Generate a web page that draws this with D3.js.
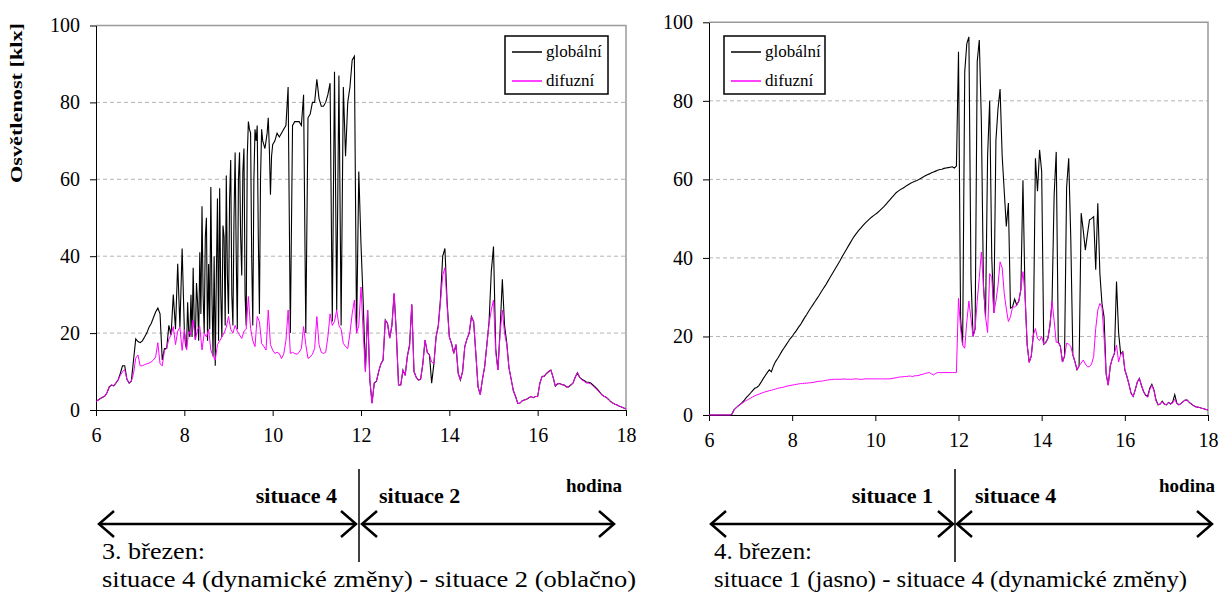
<!DOCTYPE html>
<html>
<head>
<meta charset="utf-8">
<script src="https://cdn.jsdelivr.net/npm/d3@7/dist/d3.min.js"></script>
<style>
  body { margin: 0; background: #fff; }
  svg { display: block; }
</style>
</head>
<body>
<svg id="chart" width="1219" height="592"></svg>
<script>
const SERIF = '"Liberation Serif", "DejaVu Serif", "Times New Roman", serif';

const xTicks = [6, 8, 10, 12, 14, 16, 18];
const yTicks = [0, 20, 40, 60, 80, 100];
const gridValues = [20, 40, 60, 80];
const seriesNames = ['globální', 'difuzní'];
const yTitle = 'Osvětlenost [klx]';

// samples per hour (6..17); 20 = every 3 min, 40 = every 1.5 min
const regularRate = [20, 20, 20, 20, 20, 20, 20, 20, 20, 20, 20, 20];
const march3GlobalRate = [20, 20, 40, 40, 20, 20, 20, 20, 20, 20, 20, 20];

// one row per hour, last value = 18:00
const march3Global = [
  2.2, 2.6, 3.0, 3.3, 3.6, 4.5, 6.0, 6.5, 6.3, 7.0, 7.8, 9.5, 11.5, 11.5, 8.0, 7.0, 7.5, 13.0, 18.5, 17.8,
  17.5, 18.0, 19.0, 20.0, 21.5, 22.5, 24.0, 25.5, 26.5, 25.0, 13.0, 16.0, 16.0, 22.0, 19.5, 30.0, 21.0, 38.0, 21.5, 42.0,
  21.0, 17.0, 16.0, 28.0, 20.4, 19.0, 30.0, 19.0, 37.0, 22.0, 18.2, 33.0, 28.0, 18.0, 41.0, 25.0, 53.0, 30.0, 20.0, 45.0,
  50.0, 18.0, 38.0, 21.0, 58.0, 30.0, 14.0, 40.0, 11.5, 35.0, 55.0, 18.0, 57.7, 30.0, 19.0, 48.0, 45.0, 22.0, 61.0, 35.0,
  25.0, 55.0, 65.0, 30.0, 22.0, 50.0, 67.0, 40.0, 21.0, 60.0, 67.0, 45.0, 35.0, 62.0, 68.0, 30.0, 22.0, 66.0, 75.0, 73.0,
  72.0, 40.0, 22.0, 60.0, 73.0, 70.0, 74.0, 45.0, 25.0, 60.0, 73.0, 70.0, 69.0, 68.0, 70.0, 72.0, 76.0, 68.0, 56.0, 66.0,
  69.0, 70.0, 72.0, 71.0, 72.0, 73.0, 74.0, 84.0, 20.0, 74.0, 75.0, 75.0, 75.0, 74.0, 82.0, 20.0, 76.0, 77.0, 80.0, 80.0,
  86.0, 81.0, 79.0, 79.0, 80.0, 82.0, 85.0, 23.0, 88.0, 26.0, 87.0, 22.0, 84.0, 66.0, 80.0, 84.0, 91.0, 92.0, 20.0, 62.0,
  43.0, 28.0, 10.0, 26.0, 7.8, 1.8, 7.0, 7.5, 10.0, 12.0, 13.0, 23.4, 22.5, 18.7, 22.0, 30.3, 20.0, 6.5, 6.5, 10.4,
  9.0, 14.0, 17.0, 27.5, 10.0, 8.5, 7.8, 8.0, 12.0, 18.2, 15.0, 14.3, 7.0, 12.0, 19.0, 22.0, 29.0, 40.0, 42.0, 28.0,
  19.0, 17.3, 14.7, 17.0, 9.6, 7.8, 10.0, 16.5, 18.5, 20.0, 24.3, 23.0, 14.7, 6.0, 4.0, 8.0, 11.3, 17.0, 23.0, 36.0,
  42.5, 16.0, 10.4, 21.0, 34.0, 22.0, 17.5, 11.0, 8.0, 5.0, 3.5, 1.7, 1.8, 2.4, 2.6, 2.8, 3.2, 3.5, 3.2, 3.5,
  3.5, 7.0, 8.7, 8.8, 9.5, 10.0, 10.4, 8.5, 6.2, 6.8, 6.9, 6.6, 6.5, 6.0, 6.0, 6.5, 7.0, 8.5, 9.7, 8.5,
  8.0, 7.7, 7.3, 7.2, 7.0, 6.5, 6.0, 5.4, 4.7, 4.0, 3.6, 3.3, 2.8, 2.2, 1.8, 1.5, 1.3, 1.0, 0.8, 0.5,
  0.3
];

const march3Diffuse = [
  2.2, 2.6, 3.0, 3.3, 3.6, 4.5, 6.0, 6.5, 6.3, 7.0, 7.8, 9.0, 10.0, 10.5, 8.0, 7.0, 7.5, 9.5, 13.5, 14.3,
  11.5, 11.5, 11.8, 12.0, 12.2, 12.5, 13.0, 13.8, 17.5, 12.0, 11.5, 15.5, 16.0, 18.5, 19.5, 21.7, 17.0, 20.5, 21.5, 15.5,
  21.0, 15.6, 20.4, 19.5, 23.4, 18.2, 21.0, 21.7, 15.6, 20.0, 19.0, 21.0, 15.6, 14.0, 13.0, 17.0, 18.0, 19.0, 20.0, 21.5,
  24.3, 21.0, 20.0, 22.0, 20.5, 19.5, 18.6, 20.5, 21.0, 29.5, 21.2, 18.0, 16.5, 24.3, 23.0, 17.3, 16.5, 15.6, 26.0, 17.0,
  15.6, 14.7, 15.0, 14.7, 13.4, 14.5, 18.0, 26.0, 14.7, 15.0, 14.7, 14.5, 15.0, 16.0, 21.7, 17.0, 13.4, 13.8, 14.5, 16.0,
  24.3, 17.0, 15.0, 14.7, 15.0, 19.0, 25.0, 22.0, 23.0, 26.0, 22.0, 21.0, 17.3, 16.5, 16.0, 20.0, 25.0, 28.6, 20.0, 22.0,
  32.0, 20.0, 10.0, 26.0, 7.8, 1.8, 7.0, 7.5, 10.0, 12.0, 13.0, 23.4, 22.5, 18.7, 22.0, 30.3, 20.0, 6.5, 6.5, 10.4,
  9.0, 14.0, 16.5, 27.3, 10.0, 8.5, 7.8, 8.0, 12.0, 18.2, 15.0, 14.3, 12.5, 12.0, 19.0, 21.5, 28.2, 35.0, 37.0, 27.0,
  19.0, 17.3, 14.7, 17.0, 9.6, 7.8, 10.0, 16.5, 18.5, 20.0, 24.3, 23.0, 14.7, 6.0, 4.0, 8.0, 11.3, 17.0, 22.5, 26.0,
  28.6, 15.0, 10.4, 20.0, 26.0, 20.0, 17.0, 11.0, 8.0, 5.0, 3.5, 1.7, 1.8, 2.4, 2.6, 2.8, 3.2, 3.5, 3.2, 3.5,
  3.5, 7.0, 8.7, 8.8, 9.5, 10.0, 10.4, 8.5, 6.2, 6.8, 6.9, 6.6, 6.5, 6.0, 6.0, 6.5, 7.0, 8.5, 9.7, 8.5,
  7.8, 7.5, 7.0, 7.0, 6.8, 6.3, 5.8, 5.2, 4.6, 4.0, 3.6, 3.3, 2.8, 2.2, 1.8, 1.5, 1.3, 1.0, 0.8, 0.5,
  0.3
];

const march4Global = [
  0, 0, 0, 0, 0, 0, 0, 0, 0, 0, 0, 0.2, 1.3, 1.8, 2.3, 2.7, 3.2, 3.8, 4.5, 5.0,
  5.6, 6.2, 6.8, 7.0, 7.5, 8.3, 9.2, 10.0, 10.8, 11.5, 11.0, 12.5, 13.6, 14.4, 15.3, 16.2, 17.0, 17.8, 18.6, 19.4,
  20.0, 20.8, 21.5, 22.3, 23.0, 23.9, 24.8, 25.6, 26.5, 27.3, 28.1, 28.9, 29.7, 30.5, 31.4, 32.2, 33.0, 33.9, 34.8, 35.7,
  36.6, 37.5, 38.4, 39.3, 40.3, 41.2, 42.1, 43.0, 43.9, 44.8, 45.6, 46.3, 47.0, 47.6, 48.2, 48.8, 49.3, 49.8, 50.3, 50.7,
  51.1, 51.5, 52.0, 52.5, 53.0, 53.6, 54.2, 54.8, 55.4, 56.0, 56.6, 57.0, 57.4, 57.7, 58.0, 58.4, 58.7, 59.0, 59.3, 59.5,
  59.7, 60.0, 60.3, 60.6, 60.9, 61.2, 61.4, 61.7, 61.9, 62.1, 62.3, 62.5, 62.6, 62.8, 62.9, 63.0, 63.1, 63.2, 62.9, 63.4,
  92.5, 24.6, 17.8, 87.4, 94.6, 96.3, 35.0, 20.0, 22.0, 90.0, 95.5, 74.7, 33.0, 25.0, 66.0, 80.0, 40.0, 26.0, 70.0, 78.0,
  83.0, 66.0, 57.0, 48.0, 54.0, 27.2, 27.5, 29.5, 28.0, 29.0, 32.0, 59.8, 30.6, 18.0, 13.4, 15.0, 20.4, 65.4, 57.0, 67.5,
  62.0, 18.0, 18.5, 19.5, 22.9, 28.9, 56.0, 67.0, 18.5, 17.5, 13.5, 15.0, 58.0, 65.4, 45.0, 15.3, 13.6, 11.5, 12.5, 51.4,
  47.0, 42.0, 46.0, 49.7, 50.0, 50.5, 37.0, 53.9, 36.0, 28.4, 25.0, 10.5, 7.6, 12.5, 14.4, 15.7, 34.0, 21.0, 15.5, 16.1,
  11.5, 9.8, 7.8, 5.5, 4.7, 6.4, 8.4, 9.3, 7.5, 6.0, 5.0, 4.8, 6.8, 7.8, 6.4, 3.8, 2.6, 2.8, 3.5, 2.8,
  2.6, 3.2, 2.8, 3.3, 5.2, 3.0, 2.6, 2.9, 3.4, 3.8, 3.8, 3.2, 2.8, 2.4, 2.1, 2.0, 1.9, 1.7, 1.6, 1.4,
  1.3
];

const march4Diffuse = [
  0, 0, 0, 0, 0, 0, 0, 0, 0, 0, 0, 0.2, 1.3, 1.8, 2.3, 2.7, 3.0, 3.4, 3.7, 4.0,
  4.3, 4.6, 4.9, 5.1, 5.3, 5.5, 5.7, 5.9, 6.0, 6.2, 6.3, 6.5, 6.6, 6.8, 6.9, 7.0, 7.1, 7.3, 7.4, 7.5,
  7.6, 7.7, 7.8, 7.9, 8.0, 8.0, 8.1, 8.1, 8.2, 8.2, 8.3, 8.4, 8.5, 8.6, 8.6, 8.7, 8.8, 8.9, 9.0, 9.0,
  9.1, 9.1, 9.1, 9.1, 9.1, 9.2, 9.1, 9.1, 9.1, 9.1, 9.2, 9.2, 9.1, 9.1, 9.1, 9.2, 9.2, 9.2, 9.2, 9.2,
  9.2, 9.2, 9.2, 9.2, 9.2, 9.2, 9.2, 9.2, 9.3, 9.4, 9.5, 9.6, 9.7, 9.7, 9.8, 9.8, 9.9, 9.9, 9.8, 10.0,
  10.0, 10.1, 10.3, 10.4, 10.6, 10.7, 10.8, 10.5, 10.2, 10.6, 10.8, 10.8, 10.8, 10.8, 10.8, 10.8, 10.8, 10.8, 10.8, 10.8,
  29.7, 22.0, 17.8, 17.0, 23.8, 29.0, 24.5, 20.0, 22.0, 29.0, 35.0, 41.5, 33.0, 25.0, 21.0, 36.0, 35.0, 26.0, 29.0, 33.0,
  39.0, 37.5, 31.0, 27.0, 23.8, 25.0, 27.5, 27.5, 28.0, 29.0, 32.0, 36.5, 30.6, 18.0, 13.4, 15.0, 20.4, 22.0, 19.5, 19.0,
  20.0, 18.0, 18.5, 19.5, 22.9, 28.9, 24.0, 18.5, 18.5, 17.5, 13.5, 15.0, 18.3, 18.0, 17.5, 15.3, 13.6, 11.5, 12.5, 13.2,
  14.0, 13.0, 12.3, 12.3, 13.0, 14.9, 22.0, 26.7, 28.4, 27.5, 20.0, 10.5, 7.6, 12.5, 14.4, 15.7, 17.8, 13.5, 15.5, 16.1,
  11.5, 9.8, 7.8, 5.5, 4.7, 6.4, 8.4, 9.3, 7.5, 6.0, 5.0, 4.5, 6.5, 7.6, 6.2, 3.6, 2.6, 2.8, 3.4, 2.8,
  2.6, 3.2, 2.8, 3.0, 4.0, 2.9, 2.6, 2.9, 3.4, 3.8, 3.8, 3.2, 2.8, 2.4, 2.1, 2.0, 1.9, 1.7, 1.6, 1.4,
  1.3
];

const march3Notes = ['situace 4', 'situace 2', 'hodina', '3. březen:', 'situace 4 (dynamické změny) - situace 2 (oblačno)'];
const march4Notes = ['situace 1', 'situace 4', 'hodina', '4. březen:', 'situace 1 (jasno) - situace 4 (dynamické změny)'];

// time stamps (hours) for a series sampled at the given per-hour rates
function sampleTimes(rate) {
  const t = rate.flatMap((n, k) => d3.range(n).map(j => 6 + k + j / n));
  t.push(18);
  return t;
}

const svg = d3.select('#chart');

const panels = [
  {
    series: [
      { values: march3Global, times: sampleTimes(march3GlobalRate), color: '#000', width: 1.1 },
      { values: march3Diffuse, times: sampleTimes(regularRate), color: '#ff00ff', width: 1 }
    ],
    notes: march3Notes,
    xRange: [96, 626], yRange: [410, 25.5],
    legend: { x: 505, y: 36, w: 103, h: 58 },
    sepX: 359, arrows: [[99, 356], [362, 614]], textX: 102, hodinaX: 622,
    dateLen: 103, lineLen: 534,
    showTitle: true
  },
  {
    series: [
      { values: march4Global, times: sampleTimes(regularRate), color: '#000', width: 1.1 },
      { values: march4Diffuse, times: sampleTimes(regularRate), color: '#ff00ff', width: 1 }
    ],
    notes: march4Notes,
    xRange: [709, 1208], yRange: [415, 22.3],
    legend: { x: 724, y: 36, w: 101, h: 58 },
    sepX: 955, arrows: [[711, 953], [957, 1212]], textX: 714, hodinaX: 1215,
    dateLen: 98, lineLen: 473,
    showTitle: false
  }
];

function label(sel, size, bold) {
  return sel.style('font-family', SERIF)
    .style('font-size', size + 'px')
    .style('font-weight', bold ? 'bold' : 'normal')
    .attr('fill', '#000');
}

function drawPanel(p) {
  const x = d3.scaleLinear().domain([6, 18]).range(p.xRange);
  const y = d3.scaleLinear().domain([0, 100]).range(p.yRange);
  const g = svg.append('g');

  // dashed gridlines
  g.selectAll('.grid')
    .data(gridValues)
    .enter().append('line')
    .attr('x1', p.xRange[0]).attr('x2', p.xRange[1])
    .attr('y1', d => y(d)).attr('y2', d => y(d))
    .attr('stroke', '#b4b4b4')
    .attr('stroke-dasharray', '4,3');

  // grey frame on top / right
  g.append('path')
    .attr('d', `M${p.xRange[0]},${y(100)}H${p.xRange[1]}V${y(0)}`)
    .attr('fill', 'none')
    .attr('stroke', '#9a9a9a')
    .attr('stroke-width', 1.5);

  // axes
  const yAxis = g.append('g')
    .attr('transform', `translate(${p.xRange[0]},0)`)
    .call(d3.axisLeft(y).tickValues(yTicks).tickSize(6).tickSizeOuter(0).tickPadding(10));
  const xAxis = g.append('g')
    .attr('transform', `translate(0,${y(0)})`)
    .call(d3.axisBottom(x).tickValues(xTicks).tickSize(6).tickSizeOuter(0).tickPadding(12));
  [yAxis, xAxis].forEach(a => {
    a.attr('font-family', null).attr('font-size', null);
    label(a.selectAll('text'), 20, false);
    a.selectAll('line, path').attr('stroke', '#000');
  });

  // global first, diffuse drawn on top
  p.series.forEach(s => {
    const line = d3.line()
      .x((d, i) => x(s.times[i]))
      .y(d => y(d));
    g.append('path')
      .datum(s.values)
      .attr('d', line)
      .attr('fill', 'none')
      .attr('stroke', s.color)
      .attr('stroke-width', s.width);
  });

  // legend
  const lg = g.append('g').attr('transform', `translate(${p.legend.x},${p.legend.y})`);
  lg.append('rect')
    .attr('width', p.legend.w).attr('height', p.legend.h)
    .attr('fill', '#fff').attr('stroke', '#000').attr('stroke-width', 1.5);
  seriesNames.forEach((name, i) => {
    lg.append('line')
      .attr('x1', 7).attr('x2', 37)
      .attr('y1', 16 + i * 29).attr('y2', 16 + i * 29)
      .attr('stroke', p.series[i].color).attr('stroke-width', 1.5);
    label(lg.append('text'), 17, false)
      .attr('x', 41).attr('y', 21 + i * 29)
      .text(name);
  });

  if (p.showTitle) {
    label(g.append('text'), 16, true)
      .attr('transform', `translate(22,103) rotate(-90)`)
      .attr('text-anchor', 'middle')
      .attr('textLength', 160)
      .attr('lengthAdjust', 'spacingAndGlyphs')
      .text(yTitle);
  }

  // situation annotations below the chart
  const ann = g.append('g');
  ann.append('line')
    .attr('x1', p.sepX).attr('x2', p.sepX)
    .attr('y1', 469).attr('y2', 562)
    .attr('stroke', '#000').attr('stroke-width', 1.5);

  const ay = 524;
  p.arrows.forEach(([a, b]) => {
    ann.append('line')
      .attr('x1', a).attr('x2', b).attr('y1', ay).attr('y2', ay)
      .attr('stroke', '#000').attr('stroke-width', 2.5);
    ann.append('path')
      .attr('d', `M${a + 15},${ay - 13}L${a},${ay}L${a + 15},${ay + 13}M${b - 15},${ay - 13}L${b},${ay}L${b - 15},${ay + 13}`)
      .attr('fill', 'none').attr('stroke', '#000').attr('stroke-width', 2.5);
  });

  label(ann.append('text'), 22, true)
    .attr('x', p.sepX - 22).attr('y', 503)
    .attr('text-anchor', 'end')
    .text(p.notes[0]);
  label(ann.append('text'), 22, true)
    .attr('x', p.sepX + 20).attr('y', 503)
    .text(p.notes[1]);
  label(ann.append('text'), 19, true)
    .attr('x', p.hodinaX).attr('y', 492)
    .attr('text-anchor', 'end')
    .text(p.notes[2]);
  label(ann.append('text'), 23, false)
    .attr('x', p.textX).attr('y', 559)
    .attr('textLength', p.dateLen)
    .attr('lengthAdjust', 'spacingAndGlyphs')
    .text(p.notes[3]);
  label(ann.append('text'), 23, false)
    .attr('x', p.textX).attr('y', 587)
    .attr('textLength', p.lineLen)
    .attr('lengthAdjust', 'spacingAndGlyphs')
    .text(p.notes[4]);
}

panels.forEach(drawPanel);
</script>
</body>
</html>
